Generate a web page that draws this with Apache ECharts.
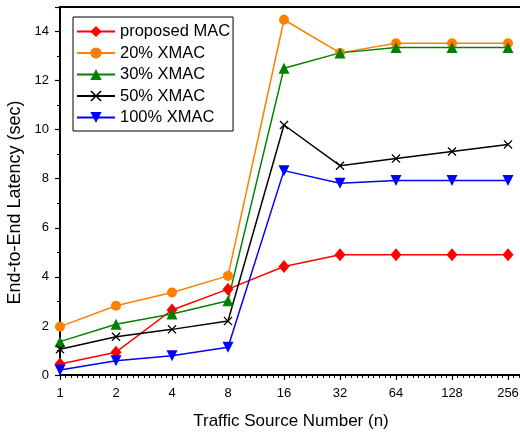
<!DOCTYPE html>
<html>
<head>
<meta charset="utf-8">
<script src="https://cdn.jsdelivr.net/npm/echarts@6/dist/echarts.min.js"></script>
<style>
  html, body { margin: 0; padding: 0; background: #fff; }
  #chart { width: 520px; height: 434px; }
</style>
</head>
<body>
<div id="chart"></div>
<script>
const sources = ['1', '2', '4', '8', '16', '32', '64', '128', '256']

const proposedMac = [0.45, 0.93, 2.65, 3.5, 4.42, 4.9, 4.9, 4.9, 4.9]
const xmac20 = [1.97, 2.82, 3.36, 4.04, 14.48, 13.13, 13.52, 13.52, 13.52]
const xmac30 = [1.36, 2.07, 2.49, 3.03, 12.5, 13.13, 13.35, 13.35, 13.35]
const xmac50 = [1.05, 1.56, 1.86, 2.2, 10.19, 8.53, 8.82, 9.11, 9.4]
const xmac100 = [0.2, 0.58, 0.78, 1.13, 8.33, 7.82, 7.93, 7.93, 7.93]

const font = 'Liberation Sans, Arial, sans-serif'
const crossPath = 'path://M0,1L1,0L5,4L9,0L10,1L6,5L10,9L9,10L5,6L1,10L0,9L4,5Z'

const toPoints = (vals) => vals.map((v, i) => [i, v])

const makeSeries = (name, vals, color, symbol, size, extra) => Object.assign({
  name: name,
  type: 'line',
  data: toPoints(vals),
  symbol: symbol,
  symbolSize: size,
  lineStyle: { color: color, width: 1.5 },
  itemStyle: { color: color },
  emphasis: { disabled: true },
}, extra || {})

const chart = echarts.init(document.getElementById('chart'))

chart.setOption({
  animation: false,
  textStyle: { fontFamily: font },
  grid: {
    left: 60,
    top: 7,
    right: -16,
    bottom: 59,
    outerBoundsMode: 'none',
    containLabel: false,
    show: true,
    borderColor: '#000',
    borderWidth: 2,
  },
  legend: {
    orient: 'vertical',
    left: 73,
    top: 17,
    padding: [6, 3, 5, 3],
    itemWidth: 38,
    itemHeight: 14,
    itemGap: 4.5,
    borderColor: '#000',
    borderWidth: 1,
    textStyle: { fontSize: 16.5, color: '#000', fontFamily: font },
  },
  xAxis: {
    type: 'value',
    min: 0,
    max: 8.5,
    interval: 1,
    name: 'Traffic Source Number (n)',
    nameLocation: 'middle',
    nameGap: 38,
    nameTextStyle: { fontSize: 17, color: '#000', padding: [0, 14, 0, 0] },
    axisLine: { lineStyle: { color: '#000', width: 1.5 } },
    axisTick: { length: 5, lineStyle: { color: '#000', width: 1.2 } },
    minorTick: { show: true, splitNumber: 10, length: 3, lineStyle: { color: '#000', width: 1 } },
    splitLine: { show: false },
    axisLabel: {
      fontSize: 13,
      color: '#000',
      margin: 12,
      formatter: (v) => (Number.isInteger(v) ? sources[v] : ''),
    },
  },
  yAxis: {
    type: 'value',
    min: 0,
    max: 15,
    interval: 2,
    name: 'End-to-End Latency (sec)',
    nameLocation: 'middle',
    nameGap: 35,
    nameTextStyle: { fontSize: 18, color: '#000', padding: [0, 23, 0, 0] },
    axisLine: { show: true, lineStyle: { color: '#000', width: 1.5 } },
    axisTick: { show: true, length: 5, lineStyle: { color: '#000', width: 1.2 } },
    minorTick: { show: true, splitNumber: 2, length: 3, lineStyle: { color: '#000', width: 1 } },
    splitLine: { show: false },
    axisLabel: {
      fontSize: 13,
      color: '#000',
      margin: 11,
      formatter: (v) => (v % 2 === 0 ? String(v) : ''),
    },
  },
  series: [
    makeSeries('proposed MAC', proposedMac, '#ff0000', 'diamond', [11, 13]),
    makeSeries('20% XMAC', xmac20, '#ff8000', 'circle', 10),
    makeSeries('30% XMAC', xmac30, '#008000', 'triangle', 11),
    makeSeries('50% XMAC', xmac50, '#000000', crossPath, 9),
    makeSeries('100% XMAC', xmac100, '#0000ff', 'triangle', 11, { symbolRotate: 180 }),
  ],
})
</script>
</body>
</html>
